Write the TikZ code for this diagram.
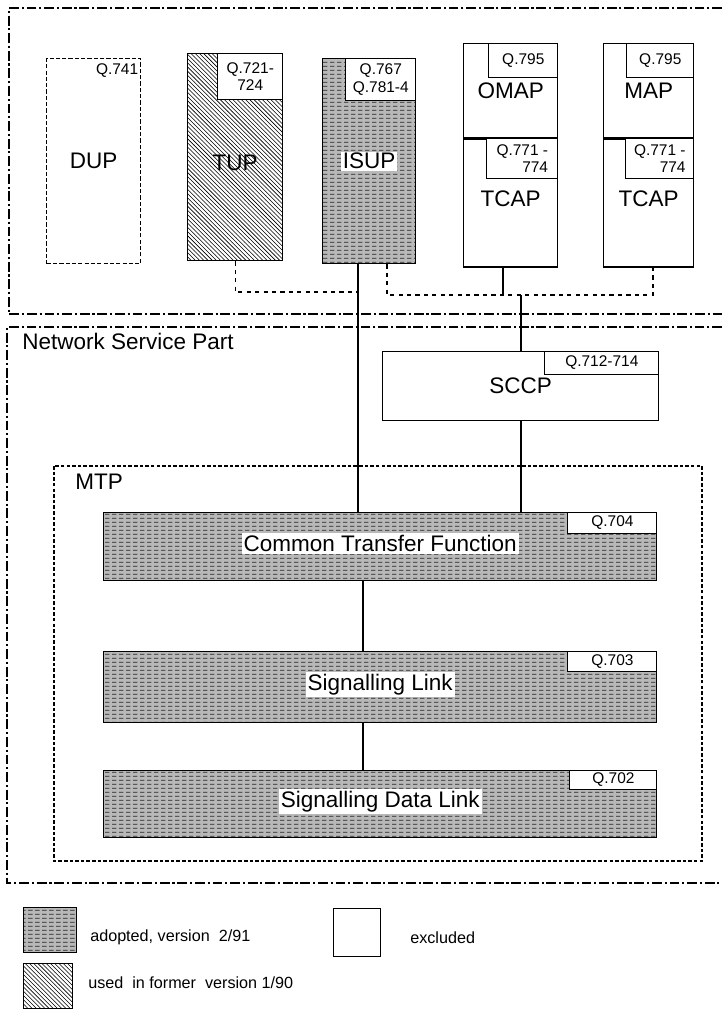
\documentclass[tikz,border=0pt]{standalone}
\usepackage{fontspec}
\setmainfont{Liberation Sans}
\usetikzlibrary{patterns, patterns.meta, positioning}

\tikzdeclarepattern{
  name=adoptlines,
  type=uncolored,
  bottom left={(0pt,0pt)},
  top right={(5pt,3pt)},
  tile size={(5pt,3pt)},
  code={
    \pgfsetlinewidth{0.75pt}
    \pgfpathmoveto{\pgfpoint{0pt}{1.5pt}}
    \pgfpathlineto{\pgfpoint{3.6pt}{1.5pt}}
    \pgfusepath{stroke}
  }
}

\begin{document}
\begin{tikzpicture}[
    x=0.025cm, y=-0.025cm,
    part/.style={draw, line width=0.9pt, inner sep=0pt, anchor=north west},
    adopted/.style={preaction={fill=black!28}, pattern=adoptlines, pattern color=black!85},
    former/.style={pattern=north west lines, pattern color=black},
    qbox/.style={draw, line width=0.7pt, fill=white, inner sep=0pt, anchor=north east, align=center, font=\fontsize{11}{12.5}\selectfont},
    big/.style={inner sep=0pt, font=\fontsize{16}{18}\selectfont},
    legtxt/.style={inner sep=0pt, anchor=west, font=\fontsize{11.5}{13}\selectfont},
    frame/.style={line width=0.8pt, dash pattern=on 7pt off 2pt on 1.5pt off 2pt},
    conn/.style={line width=0.8pt}
]
    \useasboundingbox (0,0) rectangle (722,1010);

    % user parts
    \draw[frame] (722,8) -- (9,8) -- (9,314) -- (722,314);

    \node[part, dash pattern=on 3pt off 1.5pt, minimum width=2.35cm, minimum height=5.125cm] (DUP) at (46,58) {};
    \node[big] (DUPt) at (DUP.center) {DUP};
    \node[inner sep=0pt, anchor=north east, font=\fontsize{11}{12.5}\selectfont] (DUPq) at ([xshift=-2pt, yshift=-4pt]DUP.north east) {Q.741};

    \node[part, former, minimum width=2.375cm, minimum height=5.175cm] (TUP) at (187,53) {};
    \node[big] (TUPt) at ([yshift=-4pt]TUP.center) {TUP};
    \node[qbox, minimum width=1.625cm, minimum height=1.15cm] (TUPq) at (TUP.north east) {Q.721-\\724};

    \node[part, adopted, minimum width=2.325cm, minimum height=5.125cm] (ISUP) at (322,58) {};
    \node[big, fill=white, inner sep=1pt] (ISUPt) at (ISUP.center) {ISUP};
    \node[qbox, minimum width=1.75cm, minimum height=1.05cm] (ISUPq) at (ISUP.north east) {Q.767\\Q.781-4};

    \node[part, minimum width=2.35cm, minimum height=2.35cm] (OMAP) at (463,43) {};
    \node[part, anchor=north, minimum width=2.35cm, minimum height=3.2cm, below=0pt of OMAP] (TCAPa) {};
    \node[big] (OMAPt) at (OMAP.center) {OMAP};
    \node[big] (TCAPat) at ([yshift=3pt]TCAPa.center) {TCAP};
    \node[qbox, minimum width=1.725cm, minimum height=0.85cm] (OMAPq) at (OMAP.north east) {Q.795};
    \node[qbox, align=right, minimum width=1.775cm, minimum height=1.0cm] (TCAPaq) at (TCAPa.north east) {Q.771 -\\774};

    \node[part, minimum width=2.25cm, minimum height=2.35cm] (MAP) at (603,43) {};
    \node[part, anchor=north, minimum width=2.25cm, minimum height=3.2cm, below=0pt of MAP] (TCAPb) {};
    \node[big] (MAPt) at (MAP.center) {MAP};
    \node[big] (TCAPbt) at ([yshift=3pt]TCAPb.center) {TCAP};
    \node[qbox, minimum width=1.675cm, minimum height=0.85cm] (MAPq) at (MAP.north east) {Q.795};
    \node[qbox, align=right, minimum width=1.7cm, minimum height=1.0cm] (TCAPbq) at (TCAPb.north east) {Q.771 -\\774};

    % network service part
    \draw[frame] (722,327) -- (7,327) -- (7,883) -- (722,883);
    \node[big, anchor=west] (NSPt) at (22,341) {Network Service Part};

    \node[part, minimum width=6.9cm, minimum height=1.725cm] (SCCP) at (382,351) {};
    \node[big] (SCCPt) at (SCCP.center) {SCCP};
    \node[qbox, minimum width=2.85cm, minimum height=0.575cm] (SCCPq) at (SCCP.north east) {Q.712-714};

    \draw[line width=0.8pt, dash pattern=on 2.5pt off 1.5pt] (54,466) rectangle (702,861);
    \node[big, anchor=west] (MTPt) at (75,482) {MTP};

    \node[part, adopted, minimum width=13.825cm, minimum height=1.7cm] (CTF) at (103,512) {};
    \node[big, fill=white, inner sep=1.5pt] (CTFt) at ([yshift=2pt]CTF.center) {Common Transfer Function};
    \node[qbox, minimum width=2.225cm, minimum height=0.525cm] (CTFq) at (CTF.north east) {Q.704};

    \node[part, adopted, minimum width=13.825cm, minimum height=1.775cm] (SL) at (103,651) {};
    \node[big, fill=white, inner sep=1.5pt] (SLt) at ([yshift=2pt]SL.center) {Signalling Link};
    \node[qbox, minimum width=2.225cm, minimum height=0.5cm] (SLq) at (SL.north east) {Q.703};

    \node[part, adopted, minimum width=13.825cm, minimum height=1.675cm] (SDL) at (103,770) {};
    \node[big, fill=white, inner sep=1.5pt] (SDLt) at ([yshift=2pt]SDL.center) {Signalling Data Link};
    \node[qbox, minimum width=2.175cm, minimum height=0.475cm] (SDLq) at (SDL.north east) {Q.702};

    % connections
    \coordinate (jT) at (358,292);
    \coordinate (busL) at (387,295);
    \coordinate (busO) at (503,295);
    \coordinate (busS) at (521,295);
    \coordinate (busR) at (653,295);
    \coordinate (mline) at (363,0);

    \draw[conn, dashed] (TUP.south) |- (jT);
    \draw[conn] (ISUP.south -| jT) -- (CTF.north -| jT);
    \draw[conn, dashed] (ISUP.south -| busL) -- (busL) -- (busR) -- (TCAPb.south -| busR);
    \draw[conn] (TCAPa.south -| busO) -- (busO);
    \draw[conn] (busS) -- (SCCP.north -| busS);
    \draw[conn] (SCCP.south -| busS) -- (CTF.north -| busS);
    \draw[conn] (CTF.south -| mline) -- (SL.north -| mline);
    \draw[conn] (SL.south -| mline) -- (SDL.north -| mline);

    % legend
    \node[part, adopted, minimum width=1.325cm, minimum height=1.125cm] (LA) at (23,907) {};
    \node[legtxt] (LAt) at (90,937) {adopted, version\ \ 2/91};
    \node[part, minimum width=1.175cm, minimum height=1.2cm] (LE) at (333,908) {};
    \node[legtxt] (LEt) at (410,938) {excluded};
    \node[part, former, minimum width=1.225cm, minimum height=1.125cm] (LF) at (23,963) {};
    \node[legtxt] (LFt) at (88,983) {used\ \ in former\ \ version 1/90};
\end{tikzpicture}
\end{document}
